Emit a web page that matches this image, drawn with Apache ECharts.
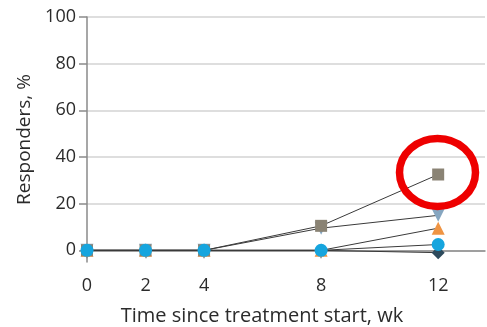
<!DOCTYPE html>
<html>
<head>
<meta charset="utf-8">
<script src="https://cdn.jsdelivr.net/npm/echarts@6/dist/echarts.min.js"></script>
<style>
  html, body { margin: 0; padding: 0; background: #fff; }
  #chart { width: 487px; height: 327px; }
</style>
</head>
<body>
<div id="chart"></div>
<script>
// Weeks since treatment start
const weeks = [0, 2, 4, 8, 12];
const xTicks = [0, 2, 4, 8, 12];
const yTicks = [0, 20, 40, 60, 80, 100];

// Responder percentages per group
const squareGroup = [0, 0, 0, 10.5, 32.5];
const downTriGroup = [0, 0, 0, 9.5, 15];
const upTriGroup = [0, 0, 0, 0, 9.5];
const circleGroup = [0, 0, 0, 0, 2.5];
const diamondGroup = [0, 0, 0, 0, -1];

const font = '"Open Sans", "Noto Sans", sans-serif';

function pairs(vals) {
  return weeks.map((w, i) => [w, vals[i]]);
}

function makeSeries(vals, symbol, color, size, z, rotate) {
  return {
    type: 'line',
    data: pairs(vals),
    symbol: symbol,
    symbolSize: size,
    symbolRotate: rotate || 0,
    showAllSymbol: true,
    z: z,
    lineStyle: { color: '#3a3a3a', width: 1 },
    itemStyle: { color: color, borderWidth: 0 },
    emphasis: { disabled: true },
    animation: false
  };
}

const chart = echarts.init(document.getElementById('chart'), null, { renderer: 'canvas' });

chart.setOption({
  animation: false,
  grid: { left: 87, right: 2, top: 17, bottom: 65, containLabel: false, outerBoundsMode: 'none' },
  xAxis: {
    type: 'value',
    min: 0,
    max: 13.6,
    name: 'Time since treatment start, wk',
    nameLocation: 'middle',
    nameGap: 44,
    nameTextStyle: { fontFamily: font, fontSize: 20, color: '#2b2b2b', padding: [0, 48, 0, 0] },
    axisLine: { show: true, lineStyle: { color: '#8a8a8a', width: 1.5 } },
    axisTick: { show: true, length: 8, customValues: xTicks, lineStyle: { color: '#8a8a8a', width: 1.5 } },
    axisLabel: { customValues: xTicks, margin: 15, fontFamily: font, fontSize: 18, color: '#2b2b2b' },
    splitLine: { show: false }
  },
  yAxis: {
    type: 'value',
    min: -5,
    max: 100,
    name: 'Responders, %',
    nameLocation: 'middle',
    nameGap: 52,
    nameTextStyle: { fontFamily: font, fontSize: 19, color: '#2b2b2b' },
    axisLine: { show: true, lineStyle: { color: '#8a8a8a', width: 1.5 } },
    axisTick: { show: true, length: 8, customValues: yTicks, lineStyle: { color: '#8a8a8a', width: 1.5 } },
    axisLabel: { customValues: yTicks, margin: 11, fontFamily: font, fontSize: 18, color: '#2b2b2b' },
    splitLine: { show: true, lineStyle: { color: '#dedede', width: 2 } }
  },
  series: [
    makeSeries(diamondGroup, 'diamond', '#2d4a5c', 13, 2),
    makeSeries(upTriGroup, 'triangle', '#ef9443', 13, 3),
    makeSeries(downTriGroup, 'triangle', '#86a6c0', 13, 4, 180),
    makeSeries(squareGroup, 'rect', '#8a8374', 12, 5),
    makeSeries(circleGroup, 'circle', '#16a5de', 13, 6)
  ],
  graphic: [{
    type: 'ellipse',
    shape: { cx: 437.5, cy: 172.5, rx: 38, ry: 34 },
    style: { fill: 'none', stroke: '#ee0000', lineWidth: 7.5 },
    z: 100
  }]
});
</script>
</body>
</html>
